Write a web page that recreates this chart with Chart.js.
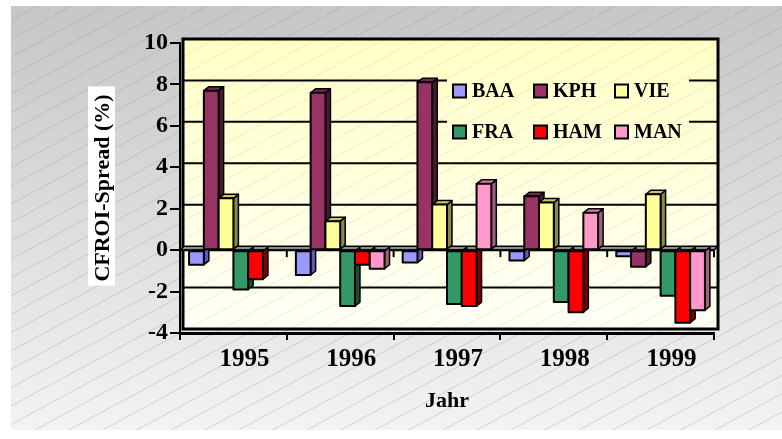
<!DOCTYPE html>
<html><head><meta charset="utf-8">
<script src="https://cdn.jsdelivr.net/npm/chart.js@4"></script>
<style>html,body{margin:0;padding:0;background:#fff;overflow:hidden}</style>
</head><body>
<canvas id="c" width="782" height="439" style="display:block;width:782px;height:439px"></canvas>
<script>
// ---- data ----
const categories = ['1995', '1996', '1997', '1998', '1999'];
const seriesNames = ['BAA', 'KPH', 'VIE', 'FRA', 'HAM', 'MAN'];
const BAA = [-0.7, -1.2, -0.6, -0.5, -0.3];
const KPH = [7.7, 7.6, 8.1, 2.6, -0.8];
const VIE = [2.5, 1.4, 2.2, 2.3, 2.7];
const FRA = [-1.9, -2.7, -2.6, -2.5, -2.2];
const HAM = [-1.4, -0.7, -2.7, -3.0, -3.5];
const MAN = [null, -0.9, 3.2, 1.8, -2.9];
const yMin = -4, yMax = 10, yStep = 2;
const yTitle = 'CFROI-Spread (%)';
const xTitle = 'Jahr';

// ---- styles ----
const fronts = ['#9999FF', '#993366', '#FFFF99', '#339966', '#FF0000', '#FF99CC'];
const sides  = ['#5c5cb3', '#4d1a33', '#8a8a4a', '#1a4d33', '#800000', '#a3607f'];
const tops   = ['#7a7ad6', '#732650', '#c8c870', '#267350', '#b30000', '#d67aa6'];
const FONT = "'Liberation Serif', 'Times New Roman', serif";
const DX = 5, DY = 4; // 3D depth offset

const seriesValues = [BAA, KPH, VIE, FRA, HAM, MAN];

function hatch(ctx, color, W, H) {
  ctx.strokeStyle = color; ctx.lineWidth = 0.8;
  for (let k = -900; k < W + 100; k += 34) {
    ctx.beginPath(); ctx.moveTo(k, H); ctx.lineTo(k + 1000, H - 540); ctx.stroke();
  }
}

const wallPlugin = {
  id: 'wall',
  beforeDraw(chart) {
    const ctx = chart.ctx, W = chart.width, H = chart.height;
    ctx.save();
    ctx.fillStyle = '#fff'; ctx.fillRect(0, 0, W, H);
    const px = 11, py = 6, pw = W - 11, ph = 430 - 6;
    const g = ctx.createLinearGradient(0, py, 0, py + ph);
    g.addColorStop(0, '#c6c6c6'); g.addColorStop(1, '#f3f3f3');
    ctx.fillStyle = g; ctx.fillRect(px, py, pw, ph);
    ctx.beginPath(); ctx.rect(px, py, pw, ph); ctx.clip();
    hatch(ctx, 'rgba(150,150,150,0.45)', W, H);
    ctx.restore();
    // white box behind y title
    ctx.save();
    ctx.font = 'bold 22px ' + FONT;
    const tw = ctx.measureText(yTitle).width;
    const cy = (chart.chartArea.top + chart.chartArea.bottom) / 2 - 2;
    ctx.fillStyle = '#fff';
    ctx.fillRect(88, cy - tw / 2 - 6, 27, tw + 12);
    ctx.restore();
  },
  beforeDatasetsDraw(chart) {
    const ctx = chart.ctx, a = chart.chartArea, ys = chart.scales.y, xs = chart.scales.x;
    ctx.save();
    const L = a.left + 3, T = a.top - DY, R = a.right + DY, B = a.bottom - DY;
    const g = ctx.createLinearGradient(0, T, 0, B);
    g.addColorStop(0, '#FFFFC6'); g.addColorStop(1, '#FFFFF6');
    ctx.fillStyle = g; ctx.fillRect(L, T, R - L, B - T);
    ctx.save(); ctx.beginPath(); ctx.rect(L, T, R - L, B - T); ctx.clip();
    hatch(ctx, 'rgba(190,190,160,0.35)', chart.width, chart.height);
    ctx.restore();
    // gridlines on back wall
    ctx.strokeStyle = '#000'; ctx.lineWidth = 2;
    for (let v = yMin + yStep; v < yMax; v += yStep) {
      if (v === 0) continue;
      const yy = ys.getPixelForValue(v) - DY;
      ctx.beginPath(); ctx.moveTo(L, yy); ctx.lineTo(R, yy); ctx.stroke();
    }
    // legend box (covers gridlines)
    const lgX = 447, lgY = 68, lgW = 242, lgH = 84;
    ctx.fillStyle = g; ctx.fillRect(lgX, lgY, lgW, lgH);
    ctx.save(); ctx.beginPath(); ctx.rect(lgX, lgY, lgW, lgH); ctx.clip();
    hatch(ctx, 'rgba(190,190,160,0.35)', chart.width, chart.height);
    ctx.restore();
    ctx.font = 'bold 20px ' + FONT; ctx.textBaseline = 'middle'; ctx.textAlign = 'left';
    chart.data.datasets.forEach((ds, i) => {
      const col = i % 3, row = Math.floor(i / 3);
      const bx = 453 + col * 81, by = 91 + row * 41;
      ctx.fillStyle = ds.backgroundColor; ctx.fillRect(bx, by - 6.5, 13, 13);
      ctx.lineWidth = 2; ctx.strokeStyle = '#000'; ctx.strokeRect(bx, by - 6.5, 13, 13);
      ctx.fillStyle = '#000'; ctx.fillText(ds.label, bx + 19, by + 1);
    });
    // wall frame
    ctx.lineWidth = 3; ctx.strokeStyle = '#000';
    ctx.strokeRect(L, T, R - L, B - T);
    // floor at zero
    const z = ys.getPixelForValue(0);
    ctx.beginPath();
    ctx.moveTo(a.left, z); ctx.lineTo(a.left + DY, z - DY); ctx.lineTo(a.right + DY, z - DY); ctx.lineTo(a.right, z); ctx.closePath();
    ctx.fillStyle = '#8c8c8c'; ctx.fill();
    ctx.lineWidth = 1.5; ctx.stroke();
    ctx.lineWidth = 2;
    ctx.beginPath(); ctx.moveTo(a.left, z); ctx.lineTo(a.right, z); ctx.stroke();
    // ticks on zero floor at category boundaries
    for (let i = 1; i <= categories.length; i++) {
      const bx = i < categories.length ? (xs.getPixelForValue(i - 1) + xs.getPixelForValue(i)) / 2 : a.right;
      ctx.beginPath(); ctx.moveTo(bx, z); ctx.lineTo(bx, z + 7); ctx.stroke();
    }
    ctx.restore();
  },
  afterDatasetsDraw(chart) {
    const ctx = chart.ctx;
    ctx.save();
    const n = chart.data.datasets.length;
    for (let i = 0; i < n; i++) {
      const meta = chart.getDatasetMeta(i);
      const ds = chart.data.datasets[i];
      meta.data.forEach((el, j) => {
        if (ds.data[j] == null) return;
        const p = el.getProps(['x', 'y', 'base', 'width'], true);
        const l = p.x - p.width / 2, r = p.x + p.width / 2;
        const t = Math.min(p.y, p.base), b = Math.max(p.y, p.base);
        ctx.lineWidth = 1.5; ctx.strokeStyle = '#000'; ctx.lineJoin = 'round';
        ctx.beginPath();
        ctx.moveTo(r, b); ctx.lineTo(r + DX, b - DY); ctx.lineTo(r + DX, t - DY); ctx.lineTo(r, t); ctx.closePath();
        ctx.fillStyle = sides[i]; ctx.fill(); ctx.stroke();
        if (p.y < p.base) {
          ctx.beginPath();
          ctx.moveTo(l, t); ctx.lineTo(l + DX, t - DY); ctx.lineTo(r + DX, t - DY); ctx.lineTo(r, t); ctx.closePath();
          ctx.fillStyle = tops[i]; ctx.fill(); ctx.stroke();
        }
        ctx.fillStyle = fronts[i];
        ctx.fillRect(l, t, r - l, b - t);
        ctx.lineWidth = 2;
        ctx.strokeRect(l, t, r - l, b - t);
      });
    }
    ctx.restore();
  }
};

new Chart(document.getElementById('c'), {
  type: 'bar',
  data: {
    labels: categories,
    datasets: seriesNames.map((name, i) => ({
      label: name,
      data: seriesValues[i],
      backgroundColor: fronts[i],
      borderColor: '#000',
      borderWidth: 2,
      categoryPercentage: 0.83,
      barPercentage: 1.0,
      skipNull: false
    }))
  },
  options: {
    responsive: false,
    animation: false,
    devicePixelRatio: 1,
    layout: { padding: { left: 0, right: 68, top: 43, bottom: 0 } },
    plugins: { legend: { display: false }, tooltip: { enabled: false } },
    scales: {
      x: {
        offset: true,
        grid: { display: true, drawOnChartArea: false, drawTicks: true, tickLength: 7, color: '#000', lineWidth: 2, offset: true },
        border: { display: true, color: '#000', width: 3 },
        ticks: { color: '#000', padding: 5, labelOffset: 11, font: { family: FONT, size: 25, weight: 'bold' } },
        title: { display: true, text: xTitle, color: '#000', font: { family: FONT, size: 22, weight: 'bold' }, padding: { top: 0, bottom: 24 } },
        afterFit(s) { s.height = 106; }
      },
      y: {
        min: yMin, max: yMax,
        ticks: { stepSize: yStep, color: '#000', padding: 2, font: { family: FONT, size: 24, weight: 'bold' } },
        grid: { display: true, drawOnChartArea: false, drawTicks: true, tickLength: 10, color: '#000', lineWidth: 2 },
        border: { display: true, color: '#000', width: 2 },
        title: { display: true, text: yTitle, color: '#000', font: { family: FONT, size: 22, weight: 'bold' }, padding: { top: 90, bottom: 0 } },
        afterFit(s) { s.width = 180; }
      }
    }
  },
  plugins: [wallPlugin]
});
</script>
</body></html>
